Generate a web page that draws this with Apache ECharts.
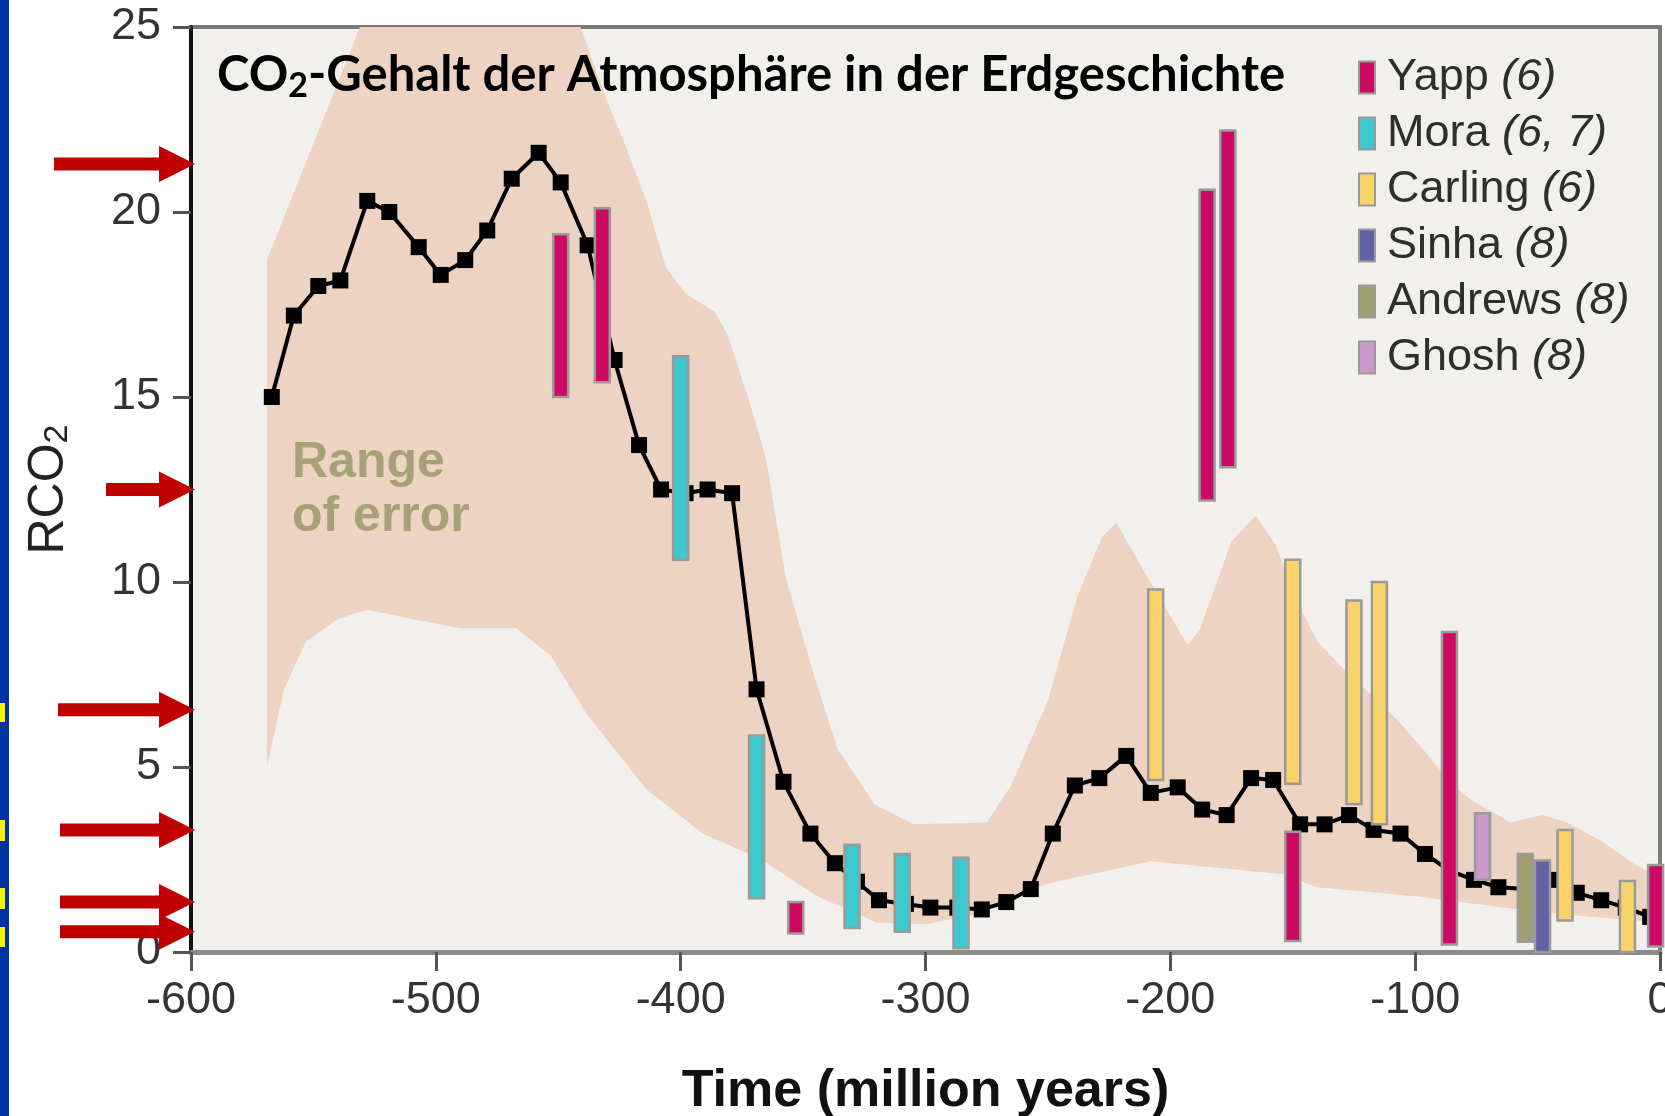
<!DOCTYPE html>
<html>
<head>
<meta charset="utf-8">
<title>CO2-Gehalt der Atmosphäre in der Erdgeschichte</title>
<script src="https://cdn.jsdelivr.net/npm/echarts@6.0.0/dist/echarts.min.js"></script>
<style>
html, body { margin: 0; padding: 0; background: #fff; }
#chart { width: 1665px; height: 1116px; }
</style>
</head>
<body>
<div id="chart"></div>
<script>
'use strict';

// GEOCARB curve: time (million years) and RCO2
var curveTime = [-567, -558, -548, -539, -528, -519, -507, -498, -488, -479,
    -469, -458, -449, -438, -427, -417, -408, -398, -389, -379,
    -369, -358, -347, -337, -328, -319, -308, -298, -287, -277,
    -267, -257, -248, -239, -229, -218, -208, -197, -187, -177,
    -167, -158, -147, -137, -127, -117, -106, -96, -86, -76,
    -66, -55, -45, -34, -24, -14, -4];
var curveValue = [15.0, 17.2, 18.0, 18.15, 20.3, 20.0, 19.05, 18.3, 18.7, 19.5,
    20.9, 21.6, 20.8, 19.1, 16.0, 13.7, 12.5, 12.4, 12.5, 12.4,
    7.1, 4.6, 3.2, 2.4, 1.9, 1.4, 1.3, 1.2, 1.2, 1.15,
    1.35, 1.7, 3.2, 4.5, 4.7, 5.3, 4.3, 4.45, 3.85, 3.7,
    4.7, 4.65, 3.45, 3.45, 3.7, 3.3, 3.2, 2.65, 2.2, 1.95,
    1.75, 1.7, 1.95, 1.6, 1.4, 1.2, 0.95];

// range of error: upper and lower edge [time, RCO2]
var bandUpper = [[-569, 18.7], [-531, 25], [-441, 25], [-430, 23.0], [-422, 21.7],
    [-414, 20.3], [-406, 18.5], [-398, 17.8], [-386, 17.3], [-381, 16.7],
    [-372, 14.9], [-365, 13.3], [-357, 10.1], [-347, 7.8], [-336, 5.5],
    [-321, 4.0], [-305, 3.45], [-275, 3.5], [-265, 4.5], [-250, 6.8],
    [-238, 9.6], [-228, 11.2], [-222, 11.6], [-210, 10.2], [-193, 8.3],
    [-188, 8.7], [-175, 11.1], [-165, 11.8], [-157, 11.0], [-147, 9.3],
    [-140, 8.4], [-127, 7.5], [-113, 6.66], [-105, 6.1], [-97, 5.5],
    [-86, 4.6], [-77, 4.1], [-61, 3.5], [-48, 3.7], [-38, 3.5],
    [-24, 3.0], [-11, 2.4], [0, 2.0]];
var bandLower = [[-569, 5.0], [-562, 7.1], [-553, 8.4], [-540, 9.0], [-528, 9.25],
    [-506, 8.95], [-490, 8.75], [-467, 8.75], [-453, 8.0], [-438, 6.4],
    [-414, 4.4], [-391, 3.2], [-367, 2.5], [-344, 1.5], [-320, 0.8],
    [-300, 0.75], [-281, 1.0], [-250, 1.85], [-208, 2.45], [-154, 2.1],
    [-140, 1.75], [-99, 1.5], [-72, 1.27], [-45, 1.05], [0, 0.8]];

// proxy ranges: [time, low, high]
var yapp = [[-449, 15.0, 19.4], [-432, 15.4, 20.1], [-353, 0.5, 1.35], [-185, 12.2, 20.6],
    [-176.5, 13.1, 22.2], [-150, 0.3, 3.25], [-86, 0.2, 8.65], [-1.8, 0.15, 2.35]];
var mora = [[-400, 10.6, 16.1], [-369, 1.45, 5.85], [-330, 0.65, 2.9], [-309.5, 0.55, 2.65],
    [-285.5, 0.1, 2.55]];
var carling = [[-206, 4.65, 9.8], [-150, 4.55, 10.6], [-125, 4.0, 9.5], [-114.6, 3.45, 10.0],
    [-38.8, 0.85, 3.3], [-13.3, 0, 1.92]];
var sinha = [[-48, 0, 2.47]];
var andrews = [[-55, 0.28, 2.65]];
var ghosh = [[-72.5, 1.95, 3.75]];

var proxyNames = ['Yapp (6)', 'Mora (6, 7)', 'Carling (6)', 'Sinha (8)', 'Andrews (8)', 'Ghosh (8)'];
var proxyColors = ['#cc0a64', '#3cc8cc', '#f9d36a', '#6262a6', '#a09e70', '#cc99cc'];
var proxyData = [yapp, mora, carling, sinha, andrews, ghosh];

// red arrow marks on the RCO2 axis
var arrowLevels = [21.3, 12.5, 6.55, 3.3, 1.35, 0.55];

var font = 'Liberation Sans, Arial, sans-serif';

function renderBand(params, api) {
    var pts = [];
    bandUpper.forEach(function(p) { pts.push(api.coord(p)); });
    bandLower.slice().reverse().forEach(function(p) { pts.push(api.coord(p)); });
    return {
        type: 'polygon',
        shape: { points: pts },
        style: { fill: '#ecd3c2' }
    };
}

function renderRangeBar(params, api) {
    var top = api.coord([api.value(0), api.value(2)]);
    var bottom = api.coord([api.value(0), api.value(1)]);
    var w = 15;
    return {
        type: 'rect',
        shape: { x: top[0] - w / 2, y: top[1], width: w, height: bottom[1] - top[1] },
        style: { fill: api.visual('color'), stroke: '#9a9a9a', lineWidth: 2.5 }
    };
}

var series = [{
    type: 'custom',
    name: 'band',
    renderItem: renderBand,
    data: [[-300, 0]],
    silent: true,
    clip: true,
    z: 1
}, {
    type: 'line',
    name: 'GEOCARB',
    data: curveTime.map(function(t, i) { return [t, curveValue[i]]; }),
    symbol: 'rect',
    symbolSize: 16,
    itemStyle: { color: '#000' },
    lineStyle: { color: '#000', width: 4 },
    z: 3
}];

proxyNames.forEach(function(name, i) {
    series.push({
        type: 'custom',
        name: name,
        renderItem: renderRangeBar,
        encode: { x: 0, y: [1, 2] },
        data: proxyData[i],
        itemStyle: { color: proxyColors[i], borderColor: '#9a9a9a', borderWidth: 2 },
        z: 5
    });
});

var chart = echarts.init(document.getElementById('chart'));

chart.setOption({
    animation: false,
    backgroundColor: '#fff',
    title: {
        text: '{a|CO}{s|2}{a|-Gehalt der Atmosphäre in der Erdgeschichte}',
        left: 212,
        top: 42,
        textStyle: {
            rich: {
                a: { fontFamily: 'Lato', fontWeight: 'bold', fontSize: 49, color: '#000', lineHeight: 56 },
                s: { fontFamily: 'Lato', fontWeight: 'bold', fontSize: 34, color: '#000', lineHeight: 12, verticalAlign: 'bottom' }
            }
        }
    },
    legend: {
        data: proxyNames,
        orient: 'vertical',
        left: 1353,
        top: 50,
        icon: 'rect',
        itemWidth: 16,
        itemHeight: 32,
        itemGap: 11,
        selectedMode: false,
        formatter: function(name) {
            var k = name.indexOf('(');
            return '{n|' + name.slice(0, k) + '}{i|' + name.slice(k) + '}';
        },
        textStyle: {
            padding: [0, 0, 0, 7],
            rich: {
                n: { fontFamily: font, fontSize: 45, color: '#2e2e2e', lineHeight: 34 },
                i: { fontFamily: font, fontSize: 45, color: '#2e2e2e', lineHeight: 34, fontStyle: 'italic' }
            }
        }
    },
    grid: {
        left: 191,
        right: 5,
        top: 27,
        bottom: 164,
        outerBoundsMode: 'none',
        show: true,
        backgroundColor: '#f2f0ec',
        borderColor: '#7a7a7a',
        borderWidth: 4
    },
    xAxis: {
        type: 'value',
        min: -600,
        max: 0,
        interval: 100,
        name: 'Time (million years)',
        nameLocation: 'middle',
        nameGap: 114,
        nameTextStyle: { fontFamily: font, fontWeight: 'bold', fontSize: 52, color: '#111' },
        splitLine: { show: false },
        axisLine: { onZero: false, lineStyle: { color: '#8a8a8a', width: 5 } },
        axisTick: { length: 19, lineStyle: { color: '#555', width: 3 } },
        axisLabel: { fontFamily: font, fontSize: 45, color: '#333', margin: 26 }
    },
    yAxis: {
        type: 'value',
        min: 0,
        max: 25,
        interval: 5,
        name: '{a|RCO}{s|2}',
        nameLocation: 'middle',
        nameRotate: 90,
        nameGap: 116,
        nameTextStyle: {
            rich: {
                a: { fontFamily: font, fontSize: 50, color: '#222', lineHeight: 52 },
                s: { fontFamily: font, fontSize: 34, color: '#222', lineHeight: 20, verticalAlign: 'bottom' }
            }
        },
        splitLine: { show: false },
        axisLine: { show: true, onZero: false, lineStyle: { color: '#111', width: 4 } },
        axisTick: { show: true, length: 18, lineStyle: { color: '#555', width: 3 } },
        axisLabel: { fontFamily: font, fontSize: 45, color: '#333', margin: 30 }
    },
    series: series
});

// decorations: blue slide edge, red arrows, band label
var graphics = [{
    type: 'rect',
    shape: { x: 0, y: 0, width: 9, height: 1116 },
    style: { fill: '#0034a2' },
    z: 10
}];

[[703, 19], [820, 21], [888, 21], [927, 20]].forEach(function(f) {
    graphics.push({
        type: 'rect',
        shape: { x: 0, y: f[0], width: 5, height: f[1] },
        style: { fill: '#f5f500' },
        z: 11
    });
});

var axisX = chart.convertToPixel({ xAxisIndex: 0 }, -600);
var tails = [54, 106, 58, 60, 60, 60];
arrowLevels.forEach(function(level, i) {
    var ty = chart.convertToPixel({ yAxisIndex: 0 }, level);
    var tx = axisX + 4;
    var hx = tx - 36;
    graphics.push({
        type: 'polygon',
        shape: {
            points: [[tails[i], ty - 6.5], [hx, ty - 6.5], [hx, ty - 18], [tx, ty],
                [hx, ty + 18], [hx, ty + 6.5], [tails[i], ty + 6.5]]
        },
        style: { fill: '#c00000' },
        z: 12
    });
});

graphics.push({
    type: 'text',
    x: 292,
    y: 436,
    style: {
        text: 'Range\nof error',
        font: 'bold 50px ' + font,
        fill: '#a5a277',
        lineHeight: 54
    },
    z: 4
});

chart.setOption({ graphic: graphics });
</script>
</body>
</html>
